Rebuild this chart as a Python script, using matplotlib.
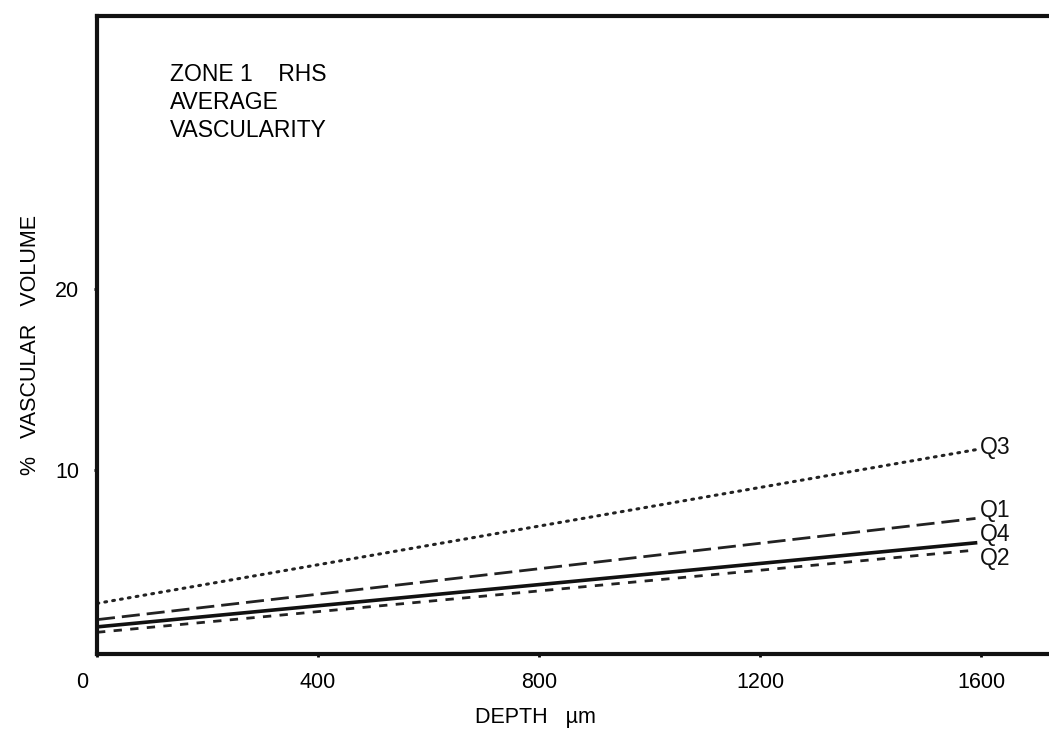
import numpy as np
import matplotlib.pyplot as plt

plt.rcParams['font.family'] = ['Liberation Sans', 'DejaVu Sans']

# depth (um) at the two ends of each fitted line
depth = [0, 1590]
q1 = [1.7, 7.3]
q2 = [1.0, 5.55]
q3 = [2.6, 11.1]
q4 = [1.3, 5.95]
names = ['Q3', 'Q1', 'Q4', 'Q2']
label_y = [11.2, 7.75, 6.4, 5.1]

fig = plt.figure(figsize=(10.49, 7.32), dpi=100)
ax = fig.add_axes([97 / 1049, 1 - 654 / 732, 1 - 97 / 1049, (654 - 16) / 732])

ax.plot(depth, q3, color='#222222', lw=2.2, linestyle=(0, (0.6, 2.0)), dash_capstyle='round')
ax.plot(depth, q1, color='#222222', lw=2.0, linestyle=(0, (6.5, 2.5)))
ax.plot(depth, q4, color='#111111', lw=2.6, linestyle='-')
ax.plot(depth, q2, color='#222222', lw=2.0, linestyle=(0, (3, 3)))

for n, yv in zip(names, label_y):
    ax.text(1598, yv, n, fontsize=16.5, va='center', ha='left', color='#111111')

ax.set_xlim(0, 1723)
ax.set_ylim(-0.2, 35.1)
ax.set_xticks([0, 400, 800, 1200, 1600])
ax.set_yticks([10, 20])
ax.tick_params(direction='out', length=2, width=2, labelsize=15.5, pad=11)
ax.spines['right'].set_visible(False)
for s in ['left', 'top', 'bottom']:
    ax.spines[s].set_linewidth(3)
    ax.spines[s].set_color('#111111')

# zero label sits left of the corner
ax.set_xticklabels(['', '400', '800', '1200', '1600'])
fig.text(82 / 1049, 1 - 682 / 732, '0', fontsize=15.5, ha='center', va='center')

ax.text(0.077, 0.927, 'ZONE 1    RHS\nAVERAGE\nVASCULARITY', transform=ax.transAxes,
        fontsize=16.5, va='top', ha='left', linespacing=1.3)

fig.text(30 / 1049, 1 - 345 / 732, '%   VASCULAR   VOLUME', rotation=90,
         fontsize=15.5, ha='center', va='center')
fig.text(535 / 1049, 1 - 718 / 732, 'DEPTH   µm', fontsize=15.5, ha='center', va='center')

fig.savefig('out.png', dpi=100)
